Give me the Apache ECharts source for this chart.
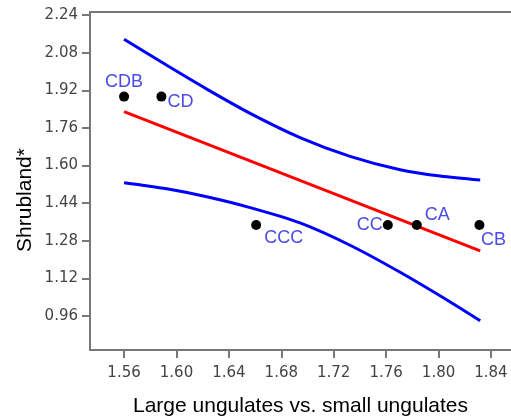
<!DOCTYPE html>
<html>
<head>
<meta charset="utf-8">
<script src="https://cdn.jsdelivr.net/npm/echarts@6/dist/echarts.min.js"></script>
<style>
  html, body { margin: 0; padding: 0; background: #fff; }
  #chart { width: 511px; height: 419px; }
</style>
</head>
<body>
<div id="chart"></div>
<script>
// 数据部分
const xTicks = [1.56, 1.60, 1.64, 1.68, 1.72, 1.76, 1.80, 1.84];
const yTicks = [0.96, 1.12, 1.28, 1.44, 1.60, 1.76, 1.92, 2.08, 2.24];

const siteNames = ['CDB', 'CD', 'CCC', 'CC', 'CA', 'CB'];
const siteX = [1.56, 1.5885, 1.6608, 1.7613, 1.7834, 1.8312];
const siteY = [1.893, 1.893, 1.347, 1.347, 1.347, 1.347];

// 回归线
const fitX = [1.56, 1.8318];
const fitY = [1.829, 1.237];

// 置信带 上
const upperX = [1.56, 1.5926, 1.6231, 1.6562, 1.6943, 1.7325, 1.7707, 1.8012, 1.8318];
const upperY = [2.137, 2.026, 1.925, 1.822, 1.719, 1.639, 1.582, 1.555, 1.538];

// 置信带 下
const lowerX = [1.56, 1.5926, 1.6231, 1.6562, 1.6943, 1.7325, 1.7707, 1.8089, 1.8318];
const lowerY = [1.527, 1.501, 1.467, 1.421, 1.356, 1.261, 1.146, 1.020, 0.940];

// 标签位置
const labelPos = {
    CDB: { position: 'top', offset: [0, 2] },
    CD: { position: 'right', offset: [-2, 5] },
    CCC: { position: 'right', offset: [0, 13] },
    CC: { position: 'left', offset: [3, 0] },
    CA: { position: 'right', offset: [0, -10] },
    CB: { position: 'bottom', offset: [14, -2] }
};

function pairs(xs, ys) {
    return xs.map((x, i) => [x, ys[i]]);
}

let chart = echarts.init(document.getElementById('chart'));

let tickFont = { fontFamily: 'DejaVu Sans', fontSize: 15, color: '#444' };
let axisColor = '#777';

let points = siteNames.map((name, i) => ({
    value: [siteX[i], siteY[i]],
    name: name,
    label: labelPos[name]
}));

let option = {
    animation: false,
    backgroundColor: '#fff',
    grid: { left: 90, right: 0, top: 12, bottom: 69, outerBoundsMode: 'none', containLabel: false },
    xAxis: [{
        type: 'value',
        min: 1.534,
        max: 1.8553,
        name: 'Large ungulates vs. small ungulates',
        nameLocation: 'middle',
        nameGap: 46,
        nameTextStyle: { fontFamily: 'Liberation Sans', fontSize: 21, color: '#000' },
        axisLine: { show: true, lineStyle: { color: axisColor, width: 2 } },
        axisTick: { show: true, length: 8, customValues: xTicks, lineStyle: { color: axisColor, width: 2 } },
        axisLabel: {
            customValues: xTicks,
            margin: 16,
            formatter: v => v.toFixed(2),
            ...tickFont
        },
        splitLine: { show: false }
    }, {
        type: 'value',
        position: 'top',
        min: 1.534,
        max: 1.8553,
        axisLine: { show: true, lineStyle: { color: axisColor, width: 2 } },
        axisTick: { show: false },
        axisLabel: { show: false },
        splitLine: { show: false }
    }],
    yAxis: {
        type: 'value',
        min: 0.8155,
        max: 2.2528,
        axisLine: { show: true, lineStyle: { color: axisColor, width: 2 } },
        axisTick: { show: true, length: 8, customValues: yTicks, lineStyle: { color: axisColor, width: 2 } },
        axisLabel: {
            customValues: yTicks,
            margin: 12,
            formatter: v => v.toFixed(2),
            ...tickFont
        },
        splitLine: { show: false }
    },
    graphic: [{
        type: 'text',
        x: 25,
        y: 200,
        rotation: Math.PI / 2,
        style: {
            text: 'Shrubland*',
            fontFamily: 'Liberation Sans',
            fontSize: 21,
            fill: '#000',
            align: 'center',
            verticalAlign: 'middle'
        }
    }],
    series: [{
        type: 'line',
        data: pairs(upperX, upperY),
        smooth: 0.3,
        symbol: 'none',
        lineStyle: { color: '#0000ff', width: 3 },
        z: 2
    }, {
        type: 'line',
        data: pairs(lowerX, lowerY),
        smooth: 0.3,
        symbol: 'none',
        lineStyle: { color: '#0000ff', width: 3 },
        z: 2
    }, {
        type: 'line',
        data: pairs(fitX, fitY),
        symbol: 'none',
        lineStyle: { color: '#ff0000', width: 3 },
        z: 3
    }, {
        type: 'scatter',
        data: points,
        symbol: 'circle',
        symbolSize: 10,
        itemStyle: { color: '#000', opacity: 1 },
        label: {
            show: true,
            formatter: p => p.name,
            fontFamily: 'Liberation Sans',
            fontSize: 18,
            color: '#4b4be6',
            distance: 3
        },
        z: 4
    }]
};

chart.setOption(option);
</script>
</body>
</html>
